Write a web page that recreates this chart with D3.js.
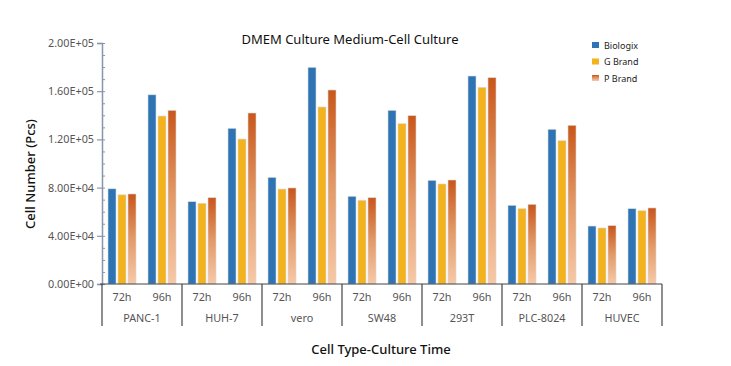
<!DOCTYPE html>
<html>
<head>
<meta charset="utf-8">
<script src="https://cdn.jsdelivr.net/npm/d3@7"></script>
<style>
  body { margin: 0; background: #fff; }
  svg { display: block; font-family: "Noto Sans", "Open Sans", sans-serif; }
</style>
</head>
<body>
<div id="chart"></div>
<script>
// cell types, culture times, brands
var cellTypes = ["PANC-1", "HUH-7", "vero", "SW48", "293T", "PLC-8024", "HUVEC"];
var times = ["72h", "96h"];
var series = ["Biologix", "G Brand", "P Brand"];

// values per cell type: [72h, 96h]
var biologix = [[79000, 157000], [68300, 129200], [88500, 179800], [72800, 144100], [86000, 172600], [65300, 128400], [48100, 62500]];
var gBrand   = [[74000, 139400], [67000, 120300], [78800, 146900], [69500, 133000], [83000, 163200], [62500, 118900], [46500, 60800]];
var pBrand   = [[74700, 144100], [71600, 141900], [79700, 161000], [71600, 139700], [86300, 171200], [66100, 131700], [48400, 63100]];

var yTicks = [0, 40000, 80000, 120000, 160000, 200000];

var W = 731, H = 366;
var plotLeft = 102, plotRight = 662, plotTop = 43, plotBottom = 284;

var svg = d3.select("#chart").append("svg")
    .attr("width", W)
    .attr("height", H);

var defs = svg.append("defs");
var grad = defs.append("linearGradient")
    .attr("id", "pgrad")
    .attr("x1", 0).attr("y1", 0).attr("x2", 0).attr("y2", 1);
grad.append("stop").attr("offset", "0%").attr("stop-color", "#c9561a");
grad.append("stop").attr("offset", "50%").attr("stop-color", "#e39a68");
grad.append("stop").attr("offset", "100%").attr("stop-color", "#f7c9a8");

var colors = { "Biologix": "#2e74b5", "G Brand": "#f4b21e", "P Brand": "url(#pgrad)" };
var valuesBySeries = { "Biologix": biologix, "G Brand": gBrand, "P Brand": pBrand };

var x0 = d3.scaleBand().domain(cellTypes).range([plotLeft, plotRight]);
var x1 = d3.scaleBand().domain(times).range([0, x0.bandwidth()]);
var x2 = d3.scaleBand().domain(series).range([6, x1.bandwidth() - 6]).paddingInner(0.2);

var y = d3.scaleLinear().domain([0, 200000]).range([plotBottom, plotTop]);

// bars
var rows = [];
cellTypes.forEach(function(c, ci) {
    times.forEach(function(t, ti) {
        series.forEach(function(s) {
            rows.push({ cell: c, time: t, series: s, value: valuesBySeries[s][ci][ti] });
        });
    });
});

svg.append("g").selectAll("rect")
    .data(rows)
    .enter().append("rect")
    .attr("x", d => x0(d.cell) + x1(d.time) + x2(d.series))
    .attr("width", x2.bandwidth())
    .attr("y", d => y(d.value))
    .attr("height", d => y(0) - y(d.value))
    .attr("fill", d => colors[d.series])
    .attr("stroke", "#d9d9d9")
    .attr("stroke-width", 0.6);

// y axis
var yAxis = svg.append("g")
    .attr("transform", "translate(" + plotLeft + ",0)");

yAxis.append("g")
    .call(d3.axisLeft(y).tickValues(d3.range(0, 200001, 10000)).tickSize(-3).tickFormat(""))
    .call(g => g.select(".domain").remove())
    .selectAll("line").attr("stroke", "#8696ab");

yAxis.append("g")
    .call(d3.axisLeft(y).tickValues(yTicks).tickSizeOuter(0).tickSize(5).tickPadding(3)
        .tickFormat(d => d.toExponential(2).toUpperCase().replace("E+", "E+0")))
    .call(g => g.select(".domain").attr("stroke", "#8696ab").attr("stroke-width", 1.5))
    .call(g => g.selectAll("line").attr("stroke", "#8696ab").attr("stroke-width", 1.2))
    .call(g => g.selectAll("text").attr("fill", "#555").attr("font-size", 10.8).attr("font-family", "Noto Sans, sans-serif"));

// x axis
var xAxis = svg.append("g");
xAxis.append("line")
    .attr("x1", plotLeft - 2).attr("x2", plotRight)
    .attr("y1", plotBottom).attr("y2", plotBottom)
    .attr("stroke", "#444").attr("stroke-width", 1.2);

xAxis.selectAll(".sep")
    .data(cellTypes.concat(["end"]))
    .enter().append("line")
    .attr("x1", (d, i) => i < cellTypes.length ? x0(d) : plotRight)
    .attr("x2", (d, i) => i < cellTypes.length ? x0(d) : plotRight)
    .attr("y1", plotBottom).attr("y2", 326)
    .attr("stroke", "#444").attr("stroke-width", 1.2);

cellTypes.forEach(function(c) {
    times.forEach(function(t) {
        xAxis.append("text")
            .attr("x", x0(c) + x1(t) + x1.bandwidth() / 2)
            .attr("y", 301)
            .attr("text-anchor", "middle")
            .attr("font-size", 10.8)
            .attr("fill", "#555")
            .text(t);
    });
    xAxis.append("text")
        .attr("x", x0(c) + x0.bandwidth() / 2)
        .attr("y", 322)
        .attr("text-anchor", "middle")
        .attr("font-size", 10.8)
        .attr("fill", "#555")
        .text(c);
});

// titles
svg.append("text")
    .attr("x", 350).attr("y", 44)
    .attr("text-anchor", "middle")
    .attr("font-size", 13)
    .attr("fill", "#111")
    .text("DMEM Culture Medium-Cell Culture");

svg.append("text")
    .attr("transform", "translate(35,174) rotate(-90)")
    .attr("text-anchor", "middle")
    .attr("font-size", 13)
    .attr("font-weight", 500)
    .attr("fill", "#111")
    .text("Cell Number (Pcs)");

svg.append("text")
    .attr("x", 381).attr("y", 354)
    .attr("text-anchor", "middle")
    .attr("font-size", 13)
    .attr("font-weight", 500)
    .attr("fill", "#111")
    .text("Cell Type-Culture Time");

// legend
var legend = svg.append("g").attr("transform", "translate(592,42)");
series.forEach(function(s, i) {
    var g = legend.append("g").attr("transform", "translate(0," + (i * 16.5) + ")");
    g.append("rect").attr("width", 7).attr("height", 6).attr("fill", colors[s]);
    g.append("text").attr("x", 12).attr("y", 6.5)
        .attr("font-size", 9).attr("fill", "#222").text(s);
});
</script>
</body>
</html>
